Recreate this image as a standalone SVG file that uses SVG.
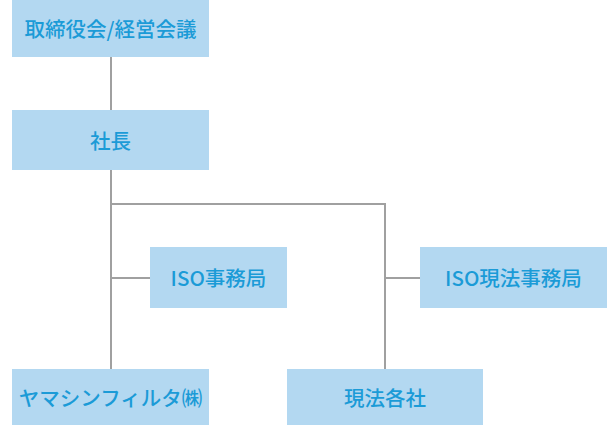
<svg xmlns="http://www.w3.org/2000/svg" width="607" height="425" viewBox="0 0 607 425">
<style>
.box{fill:#b3d8f1}
.lbl{font-family:"Noto Sans CJK JP","Noto Sans",sans-serif;font-weight:500;font-size:20.5px;fill:#1b9bd7;text-anchor:middle;dominant-baseline:central}
.ln{stroke:#a0a0a0;stroke-width:2;fill:none}
</style>
<g id="connectors">
<path class="ln" d="M111 57V369"/>
<path class="ln" d="M111 204H385V369"/>
<path class="ln" d="M111 278H150"/>
<path class="ln" d="M385 278H420"/>
</g>
<g id="n1"><rect class="box" x="12" y="0" width="197" height="57"/><text class="lbl" x="110.5" y="28">取締役会/経営会議</text></g>
<g id="n2"><rect class="box" x="12" y="110" width="197" height="60"/><text class="lbl" x="110.5" y="140">社長</text></g>
<g id="n3"><rect class="box" x="150" y="247" width="137" height="61"/><text class="lbl" x="218.5" y="277">ISO事務局</text></g>
<g id="n4"><rect class="box" x="420" y="247" width="187" height="61"/><text class="lbl" x="513.5" y="277">ISO現法事務局</text></g>
<g id="n5"><rect class="box" x="12" y="369" width="197" height="56"/><text class="lbl" x="110.5" y="397">ヤマシンフィルタ㈱</text></g>
<g id="n6"><rect class="box" x="287" y="369" width="196" height="56"/><text class="lbl" x="385" y="397">現法各社</text></g>
</svg>
